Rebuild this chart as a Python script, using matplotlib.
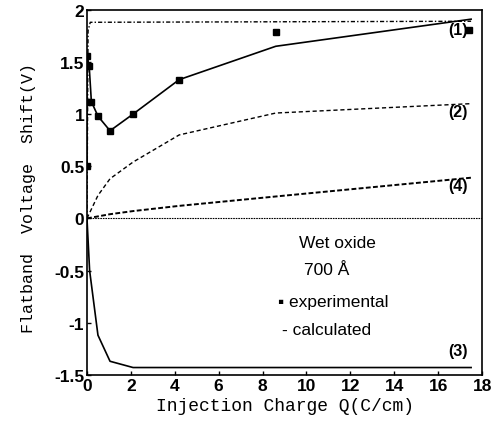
import matplotlib
matplotlib.use("Agg")
import matplotlib.pyplot as plt

# Curve (1): calculated, solid
q_calc1 = [0, 0, 0, 0.1, 0.2, 0.5, 1.05, 2.1, 4.2, 8.6, 17.5]
v_calc1 = [0.5, 1.12, 1.56, 1.46, 1.12, 0.98, 0.84, 1.0, 1.33, 1.65, 1.91]

# Upper saturation line (dash-dot)
q_top = [0, 0.05, 0.15, 17.5]
v_top = [0.0, 1.8, 1.88, 1.89]

# Curve (2)
q_calc2 = [0, 0.5, 1.05, 2.1, 4.2, 8.6, 17.5]
v_calc2 = [0, 0.22, 0.38, 0.54, 0.8, 1.01, 1.1]

# Curve (4)
q_calc4 = [0, 1.05, 2.1, 4.2, 8.6, 17.5]
v_calc4 = [0, 0.04, 0.07, 0.12, 0.21, 0.39]

# Curve (3)
q_calc3 = [0, 0.12, 0.5, 1.05, 2.1, 4.2, 8.6, 17.5]
v_calc3 = [0, -0.5, -1.12, -1.37, -1.43, -1.43, -1.43, -1.43]

# Experimental points
q_exp = [0, 0, 0, 0.1, 0.2, 0.5, 1.05, 2.1, 4.2, 8.6, 17.4]
v_exp = [0.5, 1.12, 1.56, 1.46, 1.12, 0.98, 0.84, 1.0, 1.33, 1.79, 1.81]

curve_labels = ["(1)", "(2)", "(4)", "(3)"]
label_pos = [(16.9, 1.81), (16.9, 1.02), (16.9, 0.32), (16.9, -1.27)]

fig = plt.figure(figsize=(4.97, 4.31), dpi=100)
ax = fig.add_axes([0.175, 0.128, 0.795, 0.847])

ax.plot(q_calc1, v_calc1, color="black", lw=1.2)
ax.plot(q_top, v_top, color="black", lw=1.0, linestyle=(0, (3, 1.5, 1, 1.5)))
ax.plot(q_calc2, v_calc2, color="black", lw=1.0, linestyle=(0, (3, 2)))
ax.plot(q_calc4, v_calc4, color="black", lw=1.4, linestyle=(0, (2.5, 1.2)))
ax.plot(q_calc3, v_calc3, color="black", lw=1.2)
ax.axhline(0, color="black", lw=0.8, linestyle=(0, (1.5, 0.8)))
ax.plot(q_exp, v_exp, linestyle="none", marker="s", ms=5, color="black")

for lab, (x, y) in zip(curve_labels, label_pos):
    ax.text(x, y, lab, fontsize=11.5, fontweight="bold", family="Liberation Sans",
            ha="center", va="center")

txt = dict(fontsize=12.5, family="Liberation Sans", color="black")
ax.text(11.4, -0.23, "Wet oxide", ha="center", va="center", **txt)
ax.text(10.9, -0.49, "700 Å", ha="center", va="center", **txt)
ax.text(8.7, -0.8, "▪ experimental", ha="left", va="center", **txt)
ax.text(8.9, -1.07, "- calculated", ha="left", va="center", **txt)

ax.set_xlim(0, 18)
ax.set_ylim(-1.5, 2.0)
ax.set_xticks(range(0, 19, 2))
ax.set_yticks([-1.5, -1, -0.5, 0, 0.5, 1, 1.5, 2])
ax.set_yticklabels(["-1.5", "-1", "-0.5", "0", "0.5", "1", "1.5", "2"])
ax.tick_params(direction="in", length=3, width=1, pad=2)
for lbl in ax.get_xticklabels() + ax.get_yticklabels():
    lbl.set_family("Liberation Sans")
    lbl.set_fontweight("bold")
    lbl.set_fontsize(12.5)
for sp in ax.spines.values():
    sp.set_linewidth(1.2)

ax.set_xlabel("Injection Charge Q(C/cm)", family="Liberation Mono", fontsize=13, labelpad=3)
ax.set_ylabel("Flatband  Voltage  Shift(V)", family="Liberation Mono", fontsize=12)
ax.yaxis.set_label_coords(-0.129, 0.488)

fig.savefig("out.png", dpi=100)
